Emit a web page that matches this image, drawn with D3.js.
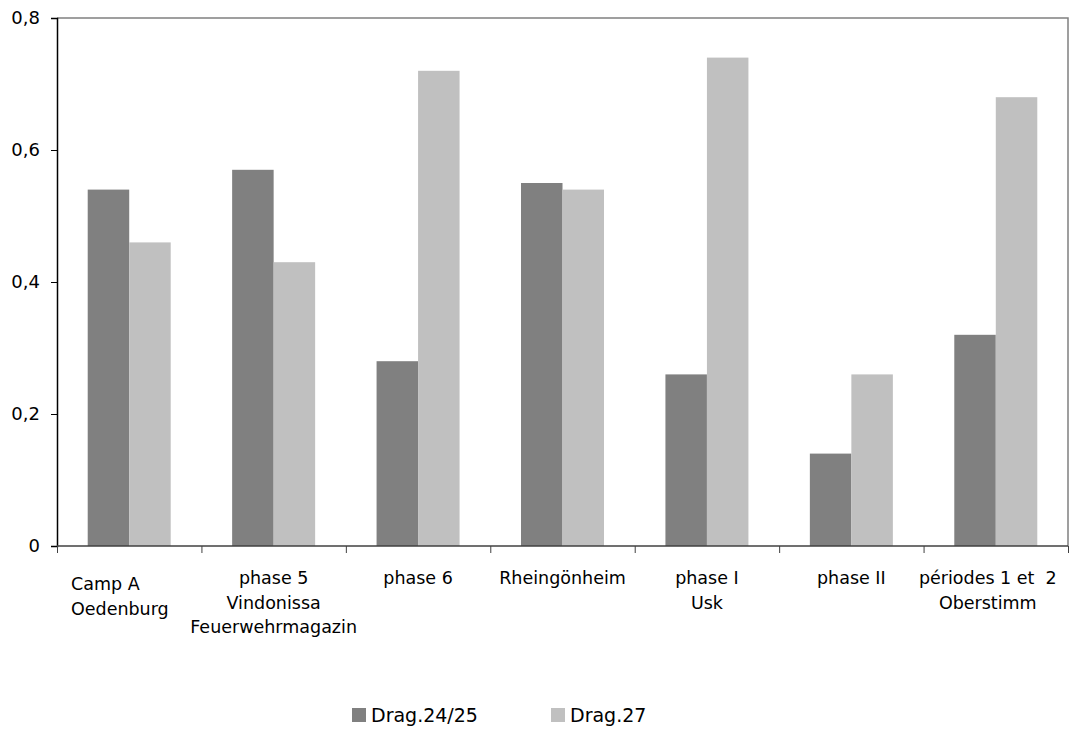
<!DOCTYPE html>
<html>
<head>
<meta charset="utf-8">
<script src="https://cdn.jsdelivr.net/npm/d3@7"></script>
<style>
  html, body { margin: 0; padding: 0; background: #fff; }
  svg { display: block; }
</style>
</head>
<body>
<svg id="chart" width="1078" height="731"></svg>
<script>
// Sites (each label split into its printed lines)
const categories = [
  ["Camp A", "Oedenburg"],
  ["phase 5", "Vindonissa", "Feuerwehrmagazin"],
  ["phase 6"],
  ["Rheingönheim"],
  ["phase I", "Usk"],
  ["phase II"],
  ["périodes 1 et  2", "Oberstimm"]
];
const seriesNames = ["Drag.24/25", "Drag.27"];
const drag2425 = [0.54, 0.57, 0.28, 0.55, 0.26, 0.14, 0.32];
const drag27   = [0.46, 0.43, 0.72, 0.54, 0.74, 0.26, 0.68];
const yTicks = [0, 0.2, 0.4, 0.6, 0.8];
const yTickLabels = ["0", "0,2", "0,4", "0,6", "0,8"];
const colors = ["#808080", "#c0c0c0"];

const svg = d3.select("#chart");
const plot = { left: 57, right: 1068, top: 18, bottom: 546 };

const x = d3.scaleBand()
  .domain(d3.range(categories.length))
  .range([plot.left, plot.right])
  .paddingInner(0)
  .paddingOuter(0);

const inner = d3.scaleBand()
  .domain(d3.range(seriesNames.length))
  .range([0, x.bandwidth()])
  .paddingInner(0)
  .paddingOuter(0.74);

const y = d3.scaleLinear().domain([0, 0.8]).range([plot.bottom, plot.top]);

// plot frame (top and right edges)
svg.append("path")
  .attr("d", `M${plot.left},${plot.top}H${plot.right}V${plot.bottom}`)
  .attr("fill", "none")
  .attr("stroke", "#808080")
  .attr("stroke-width", 1.5);

// bars
const series = [drag2425, drag27];
series.forEach((vals, s) => {
  svg.append("g").selectAll("rect")
    .data(vals)
    .join("rect")
    .attr("x", (d, i) => x(i) + inner(s))
    .attr("y", d => y(d))
    .attr("width", inner.bandwidth())
    .attr("height", d => y(0) - y(d))
    .attr("fill", colors[s]);
});

// y axis
const yAxis = d3.axisLeft(y)
  .tickValues(yTicks)
  .tickFormat((d, i) => yTickLabels[i])
  .tickSize(6)
  .tickPadding(11);
const gy = svg.append("g")
  .attr("transform", `translate(${plot.left},0)`)
  .call(yAxis);
gy.select(".domain").attr("stroke", "#000").attr("stroke-width", 1.5);
gy.selectAll(".tick line").attr("stroke", "#000");
gy.selectAll(".tick text")
  .attr("font-family", "'DejaVu Sans', Verdana, sans-serif")
  .attr("font-size", 18)
  .attr("fill", "#000");

// x axis with ticks at category boundaries
const boundaries = d3.range(categories.length + 1).map(i => plot.left + i * x.step());
const xb = d3.scaleLinear().domain([plot.left, plot.right]).range([plot.left, plot.right]);
const gx = svg.append("g")
  .attr("transform", `translate(0,${plot.bottom})`)
  .call(d3.axisBottom(xb).tickValues(boundaries).tickSize(7).tickFormat(""));
gx.select(".domain").attr("stroke", "#404040").attr("stroke-width", 1.5)
  .attr("d", `M${plot.left},0H${plot.right}`);
gx.selectAll(".tick line").attr("stroke", "#404040");

// category labels
const labels = svg.append("g")
  .attr("font-family", "'DejaVu Sans', 'Lucida Grande', sans-serif")
  .attr("font-size", 17.5)
  .attr("fill", "#000");
categories.forEach((lines, i) => {
  const first = i === 0;
  const t = labels.append("text")
    .attr("text-anchor", first ? "start" : "middle")
    .attr("x", first ? x(i) + 14 : x(i) + x.bandwidth() / 2 - (i === categories.length - 1 ? 8 : 0))
    .attr("y", first ? 590 : 584);
  lines.forEach((ln, j) => {
    t.append("tspan")
      .attr("x", t.attr("x"))
      .attr("dy", j === 0 ? 0 : 24.5)
      .attr("xml:space", "preserve")
      .style("white-space", "pre")
      .text(ln);
  });
});

// legend
const legendX = [352, 551];
const legend = svg.append("g");
seriesNames.forEach((name, s) => {
  legend.append("rect")
    .attr("x", legendX[s]).attr("y", 708)
    .attr("width", 14).attr("height", 14)
    .attr("fill", colors[s]);
  legend.append("text")
    .attr("x", legendX[s] + 19).attr("y", 722)
    .attr("font-family", "'DejaVu Sans', Verdana, sans-serif")
    .attr("font-size", 19)
    .attr("fill", "#000")
    .text(name);
});
</script>
</body>
</html>
